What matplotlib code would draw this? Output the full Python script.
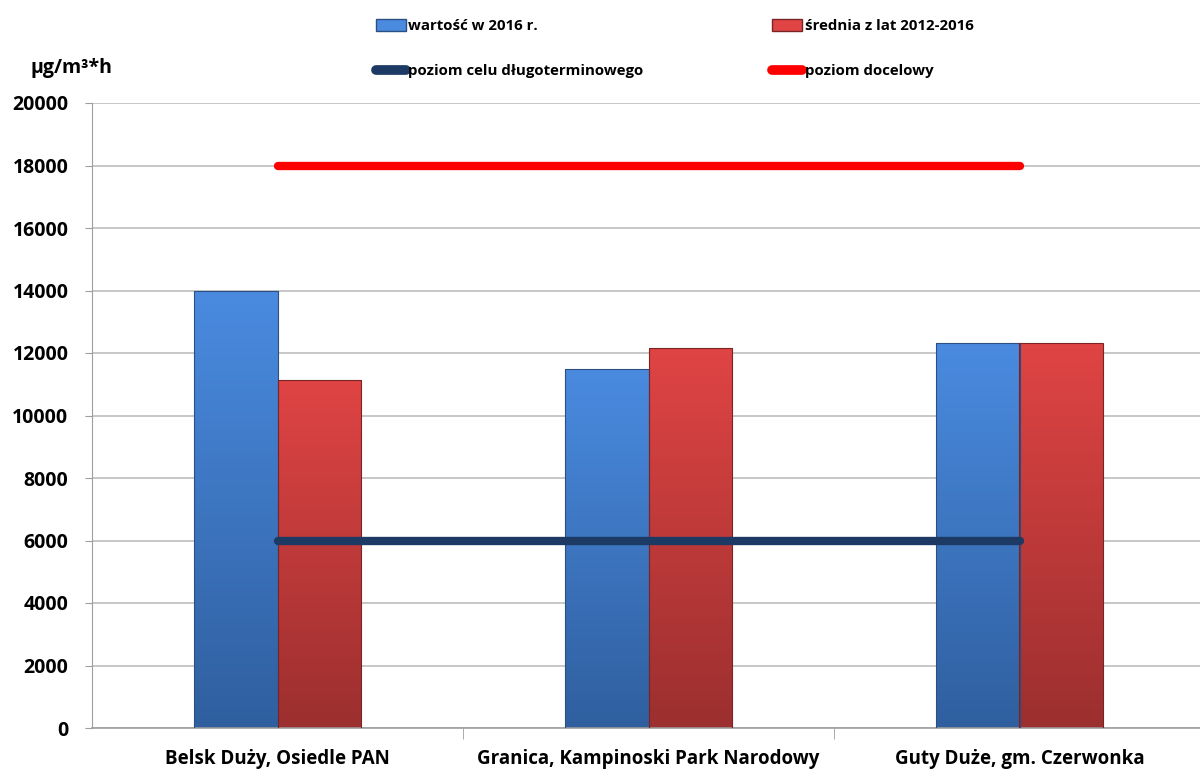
import matplotlib
matplotlib.use("Agg")
import matplotlib.pyplot as plt
import numpy as np
from matplotlib.colors import LinearSegmentedColormap
from matplotlib.lines import Line2D
from matplotlib.patches import Patch

stations = ["Belsk Duży, Osiedle PAN", "Granica, Kampinoski Park Narodowy",
            "Guty Duże, gm. Czerwonka"]
value_2016 = [14000, 11500, 12320]
mean_2012_2016 = [11150, 12150, 12320]
long_term_level = 6000
target_level = 18000
series_names = ["wartość w 2016 r.", "średnia z lat 2012-2016"]
line_names = ["poziom celu długoterminowego", "poziom docelowy"]
unit = "μg/m³*h"

plt.rcParams["font.family"] = ["Open Sans", "DejaVu Sans"]

BLUE_TOP, BLUE_BOT = "#4a8be0", "#2f5f9f"
RED_TOP, RED_BOT = "#e04444", "#9c2f2f"
NAVY = "#1c3a63"


def gradient_bar(ax, bar, top, bottom):
    x0, y0 = bar.get_xy()
    w, h = bar.get_width(), bar.get_height()
    cmap = LinearSegmentedColormap.from_list("g", [bottom, top])
    grad = np.linspace(0, 1, 256).reshape(-1, 1)
    im = ax.imshow(grad, extent=[x0, x0 + w, y0, y0 + h], origin="lower",
                   aspect="auto", cmap=cmap, zorder=2)
    im.set_clip_path(bar)
    bar.set_facecolor("none")


fig = plt.figure(figsize=(12, 7.69), dpi=100)
ax = fig.add_axes([92 / 1200, 1 - 728 / 769, 1 - 92 / 1200, (728 - 103) / 769])

x = np.arange(len(stations))
w = 0.225
b1 = ax.bar(x - w / 2, value_2016, w, edgecolor="#2a4f80", linewidth=0.8, zorder=3)
b2 = ax.bar(x + w / 2, mean_2012_2016, w, edgecolor="#7a2525", linewidth=0.8, zorder=3)
for bar in b1:
    gradient_bar(ax, bar, BLUE_TOP, BLUE_BOT)
for bar in b2:
    gradient_bar(ax, bar, RED_TOP, RED_BOT)

ax.plot(x, [long_term_level] * len(x), color=NAVY, lw=6, solid_capstyle="round", zorder=4)
ax.plot(x, [target_level] * len(x), color="#ff0000", lw=6, solid_capstyle="round", zorder=4)

ax.set_xlim(-0.5, (1200 - 92) / 371 - 0.5)
ax.set_ylim(0, 20000)
ax.set_yticks(np.arange(0, 20001, 2000))
ax.set_yticklabels([str(v) for v in range(0, 20001, 2000)], fontsize=14,
                   fontweight="bold")
ax.yaxis.grid(True, color="#bdbdbd", lw=1.2, zorder=0)
ax.set_axisbelow(True)

ax.set_xticks(x)
ax.set_xticklabels(stations, fontsize=13.5, fontweight="bold")
ax.tick_params(axis="x", length=0, pad=15)
ax.set_xticks([0.5, 1.5], minor=True)
ax.tick_params(axis="x", which="minor", length=8, color="#9e9e9e")
ax.tick_params(axis="y", length=5, color="#9e9e9e", pad=12)

for s in ["top", "right"]:
    ax.spines[s].set_visible(False)
ax.spines["left"].set_color("#9e9e9e")
ax.spines["bottom"].set_color("#9e9e9e")
ax.spines["bottom"].set_linewidth(1.2)

handles = [
    Patch(facecolor=BLUE_TOP, edgecolor="#2a4f80"),
    Line2D([], [], color=NAVY, lw=7, solid_capstyle="round"),
    Patch(facecolor=RED_TOP, edgecolor="#7a2525"),
    Line2D([], [], color="#ff0000", lw=7, solid_capstyle="round"),
]
labels = [series_names[0], line_names[0], series_names[1], line_names[1]]
fig.legend(handles, labels, ncol=2, loc="upper left", bbox_to_anchor=(0.302, 0.993),
           frameon=False, prop={"size": 10.8, "weight": "bold"},
           handlelength=2.0, handletextpad=0.15, columnspacing=8.6,
           labelspacing=2.05, handleheight=0.9)

fig.text(30 / 1200, 1 - 68 / 769, unit, fontsize=14, fontweight="bold",
         va="center", ha="left")

fig.savefig("out.png", dpi=100)
